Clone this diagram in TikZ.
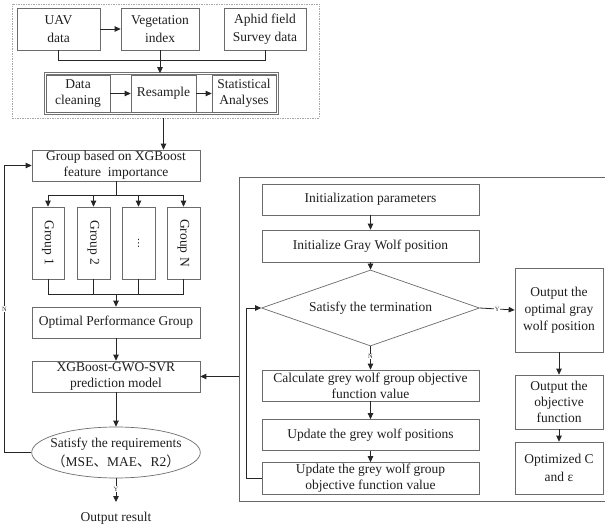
\documentclass[tikz,border=0pt]{standalone}
\usepackage{fontspec}
\setmainfont{Liberation Serif}
\newfontfamily\cjk{Noto Sans CJK SC}
\newfontfamily\djv{DejaVu Sans}
\usepackage{graphicx}
\usetikzlibrary{arrows.meta,shapes.geometric}
\begin{document}
\begin{tikzpicture}[x=1pt,y=-1pt,
  box/.style={draw=black!58, line width=0.7pt, inner sep=0.5pt, align=center,
    font=\fontsize{13.5}{16}\selectfont, text=black!88},
  arr/.style={draw=black!85, line width=0.8pt, -{Triangle[length=6pt,width=5.5pt]}},
  ln/.style={draw=black!85, line width=0.8pt},
  lbl/.style={fill=white, inner sep=0.5pt, font=\fontsize{6.5}{6.5}\selectfont, text=black!80},
]
\useasboundingbox (0,0) rectangle (605,526);

% ---------- top data block ----------
\node[draw=black!35, dash pattern=on 1.5pt off 1pt, line width=0.5pt,
      minimum width=307, minimum height=114, inner sep=0] (dbox) at (165.5,61) {};
\node[box, minimum width=83, minimum height=42, font=\fontsize{13.5}{17.5}\selectfont] (uav) at (58.5,29) {UAV\\data};
\node[box, minimum width=78, minimum height=42, font=\fontsize{13.5}{17.5}\selectfont] (veg) at (160,29) {Vegetation\\index};
\node[box, minimum width=82, minimum height=42, font=\fontsize{13.5}{17.5}\selectfont] (aphid) at (265,29) {Aphid field\\Survey data};
\node[draw=black!55, line width=0.6pt, double, double distance=1.3pt,
      minimum width=232, minimum height=40, inner sep=0] (frame) at (161.5,93.5) {};
\node[box, minimum width=64, minimum height=37] (clean) at (78,93.5) {Data\\cleaning};
\node[box, minimum width=65, minimum height=37] (resample) at (163.5,93.5) {Resample};
\node[box, minimum width=64, minimum height=37] (stat) at (244,93.5) {Statistical\\Analyses};

\draw[arr] (uav.east) -- (veg.west);
\draw[ln] (uav.south) -- ++(0,10) -| (aphid.south);
\draw[arr] (veg.south) -- (veg.south |- frame.north);
\draw[arr] (clean.east) -- (resample.west);
\draw[arr] (resample.east) -- (stat.west);

% ---------- left column ----------
\node[box, minimum width=168, minimum height=31] (grp) at (116,165.5) {Group based on XGBoost\\feature\ \ importance};
\draw[arr] (resample.south |- dbox.south) -- (resample.south |- grp.north);

\node[box, minimum width=32, minimum height=72] (g1) at (48,243) {\rotatebox{-90}{Group 1}};
\node[box, minimum width=33, minimum height=72] (g2) at (93.5,243) {\rotatebox{-90}{Group 2}};
\node[box, minimum width=33, minimum height=72] (g3) at (138.5,243) {\fontsize{10}{10}\selectfont\djv ⋮};
\node[box, minimum width=33, minimum height=72] (gN) at (183.5,243) {\rotatebox{-90}{Group N}};

\coordinate (br) at (116,195);
\draw[ln] (grp.south) -- (br);
\draw[ln] (g1.north |- br) -- (gN.north |- br);
\foreach \g in {g1,g2,g3,gN} \draw[arr] (\g.north |- br) -- (\g.north);

\node[box, minimum width=168, minimum height=31] (opt) at (116,322.5) {Optimal Performance Group};
\coordinate (mg) at (116,294);
\foreach \g in {g1,g2,g3,gN} \draw[ln] (\g.south) -- (\g.south |- mg);
\draw[ln] (g1.south |- mg) -- (gN.south |- mg);
\draw[arr] (mg) -- (opt.north);

\node[box, minimum width=168, minimum height=31] (xgb) at (116,376.5) {XGBoost-GWO-SVR\\prediction model};
\draw[arr] (opt.south) -- (xgb.north);

\node[box, ellipse, minimum width=168, minimum height=51, inner xsep=-6pt, inner ysep=1pt,
      font=\fontsize{13.5}{19}\selectfont] (ell) at (116,452.5)
      {Satisfy the requirements\\{\cjk （}MSE{\cjk 、}MAE{\cjk 、}R2{\cjk ）}};
\draw[arr] (xgb.south) -- (ell.north);

\node[font=\fontsize{13.5}{16}\selectfont, text=black!88, inner sep=0] (out) at (116,518) {Output result};
\coordinate (ytip) at (116,502);
\draw[arr] (ell.south) -- node[lbl, pos=0.45] {Y} (ytip);

\draw[arr] (ell.west) -- ++(-27,0) |- node[lbl, pos=0.25] {N} (grp.west);

% ---------- right panel ----------
\draw[draw=black!60, line width=0.7pt] (605,177) -- (239,177) -- (239,501) -- (605,501);
\coordinate (pl) at (239,376.5);
\draw[arr] (pl) -- (xgb.east);

\node[box, minimum width=217, minimum height=31] (init) at (370.5,199.5) {Initialization parameters};
\node[box, minimum width=217, minimum height=32] (gwp) at (370.5,246) {Initialize Gray Wolf position};
\node[box, diamond, aspect=2.9, minimum width=218, minimum height=76, inner sep=0pt] (dia) at (370.5,308) {Satisfy the termination};
\node[box, minimum width=88, minimum height=84, font=\fontsize{13.5}{17}\selectfont] (opt1) at (559,310) {Output the\\optimal gray\\wolf position};
\node[box, minimum width=88, minimum height=54] (obj) at (559,402) {Output the\\objective\\function};
\node[box, minimum width=88, minimum height=52, font=\fontsize{13.5}{18}\selectfont] (optc) at (559,468) {Optimized C\\and ε};
\node[box, minimum width=217, minimum height=31] (calc) at (370.5,385.5) {Calculate grey wolf group objective\\function value};
\node[box, minimum width=217, minimum height=31] (upos) at (370.5,435) {Update the grey wolf positions};
\node[box, minimum width=217, minimum height=32] (ugrp) at (370.5,478.5) {Update the grey wolf group\\objective function value};

\draw[arr] (init.south) -- (gwp.north);
\draw[arr] (gwp.south) -- (dia.north);
\draw[arr] (dia.east) -- node[lbl, pos=0.5] {Y} (opt1.west);
\draw[arr] (opt1.south) -- (obj.north);
\draw[arr] (obj.south) -- (optc.north);
\draw[arr] (dia.south) -- node[lbl, pos=0.45] {N} (calc.north);
\draw[arr] (calc.south) -- (upos.north);
\draw[arr] (upos.south) -- (ugrp.north);
\draw[arr] (ugrp.west) -- ++(-15,0) |- (dia.west);
\end{tikzpicture}
\end{document}
